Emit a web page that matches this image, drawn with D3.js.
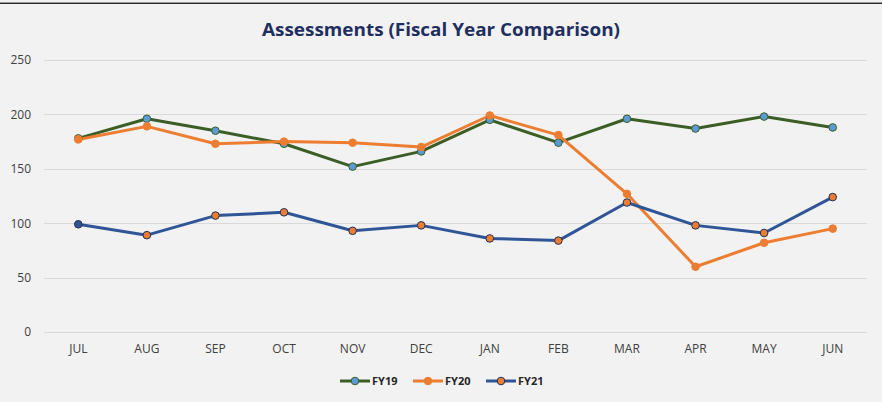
<!DOCTYPE html>
<html>
<head>
<meta charset="utf-8">
<script src="https://cdn.jsdelivr.net/npm/d3@7"></script>
<style>
  body { margin: 0; background: #f2f2f2; }
  svg { display: block; }
</style>
</head>
<body>
<script>
// données
var mois = ["JUL", "AUG", "SEP", "OCT", "NOV", "DEC", "JAN", "FEB", "MAR", "APR", "MAY", "JUN"];
var fy19 = [178, 196, 185, 173, 152, 166, 195, 174, 196, 187, 198, 188];
var fy20 = [177, 189, 173, 175, 174, 170, 199, 181, 127, 60, 82, 95];
var fy21 = [99, 89, 107, 110, 93, 98, 86, 84, 119, 98, 91, 124];
var yTicks = [0, 50, 100, 150, 200, 250];

var larg = 882, haut = 402;
var marge = {gauche: 44, droite: 15, haut: 60, bas: 332};

var series = [
  {nom: "FY19", valeurs: fy19, ligne: "#3b5e26", fond: "#5b9bd5", bord: "#3b5e26"},
  {nom: "FY20", valeurs: fy20, ligne: "#ed7d31", fond: "#ed7d31", bord: "#ed7d31"},
  {nom: "FY21", valeurs: fy21, ligne: "#2f5597", fond: "#ed7d31", bord: "#1f2f5a"}
];

var svg = d3.select("body").append("svg")
  .attr("width", larg)
  .attr("height", haut);

svg.append("rect").attr("width", larg).attr("height", haut).attr("fill", "#f2f2f2");
// bordure du haut
svg.append("line").attr("x1", 0).attr("x2", larg).attr("y1", 2.5).attr("y2", 2.5)
  .attr("stroke", "#9a9a9a").attr("stroke-width", 1);
svg.append("line").attr("x1", 0).attr("x2", larg).attr("y1", 3.5).attr("y2", 3.5)
  .attr("stroke", "#2b2b2b").attr("stroke-width", 1);

var xScale = d3.scaleBand()
  .domain(mois)
  .range([marge.gauche, larg - marge.droite]);

var yScale = d3.scaleLinear()
  .domain([0, 250])
  .range([marge.bas, marge.haut]);

// titre
svg.append("text")
  .attr("x", 441)
  .attr("y", 36)
  .attr("text-anchor", "middle")
  .attr("font-family", "Open Sans, sans-serif")
  .attr("font-weight", "bold")
  .attr("font-size", "18px")
  .attr("textLength", 358)
  .attr("lengthAdjust", "spacingAndGlyphs")
  .attr("fill", "#1f2f5f")
  .text("Assessments (Fiscal Year Comparison)");

// grille
svg.append("g").selectAll("line")
  .data(yTicks)
  .enter()
  .append("line")
  .attr("x1", marge.gauche)
  .attr("x2", larg - marge.droite)
  .attr("y1", function(d) { return Math.round(yScale(d)) + 0.5; })
  .attr("y2", function(d) { return Math.round(yScale(d)) + 0.5; })
  .attr("stroke", "#d9d9d9")
  .attr("stroke-width", 1.2);

// axe y
var yAxe = svg.append("g")
  .attr("transform", "translate(" + (marge.gauche - 13) + ",0)")
  .call(d3.axisLeft(yScale).tickValues(yTicks).tickSize(0).tickPadding(0));
yAxe.select(".domain").remove();
yAxe.selectAll("text")
  .attr("font-family", "Open Sans, sans-serif")
  .attr("font-size", "12px")
  .attr("fill", "#404040");

// axe x
var xAxe = svg.append("g")
  .attr("transform", "translate(0," + (marge.bas + 12) + ")")
  .call(d3.axisBottom(xScale).tickSize(0).tickPadding(0));
xAxe.select(".domain").remove();
xAxe.selectAll("text")
  .attr("font-family", "Open Sans, sans-serif")
  .attr("font-size", "12px")
  .attr("fill", "#404040");

var ligne = d3.line()
  .x(function(d, i) { return xScale(mois[i]) + xScale.bandwidth() / 2; })
  .y(function(d) { return yScale(d); });

series.forEach(function(s) {
  svg.append("path")
    .datum(s.valeurs)
    .attr("d", ligne)
    .attr("fill", "none")
    .attr("stroke", s.ligne)
    .attr("stroke-width", 3)
    .attr("stroke-linejoin", "round");
});

series.forEach(function(s) {
  svg.append("g").selectAll("circle")
    .data(s.valeurs)
    .enter()
    .append("circle")
    .attr("cx", function(d, i) { return xScale(mois[i]) + xScale.bandwidth() / 2; })
    .attr("cy", function(d) { return yScale(d); })
    .attr("r", 3.8)
    .attr("fill", function(d, i) { return (s.nom == "FY21" && i == 0) ? "#2f5597" : s.fond; })
    .attr("stroke", s.bord)
    .attr("stroke-width", 1);
});

// légende
var leg = svg.append("g").selectAll("g")
  .data(series)
  .enter()
  .append("g")
  .attr("transform", function(d, i) { return "translate(" + (340 + i * 73) + ",381)"; });
leg.append("line")
  .attr("x1", 0).attr("x2", 30)
  .attr("stroke", function(d) { return d.ligne; })
  .attr("stroke-width", 3);
leg.append("circle")
  .attr("cx", 15)
  .attr("r", 3.8)
  .attr("fill", function(d) { return d.fond; })
  .attr("stroke", function(d) { return d.bord; })
  .attr("stroke-width", 1);
leg.append("text")
  .text(function(d) { return d.nom; })
  .attr("x", 32)
  .attr("y", 4)
  .attr("font-family", "Open Sans, sans-serif")
  .attr("font-weight", "bold")
  .attr("font-size", "11px")
  .attr("fill", "#262626");
</script>
</body>
</html>
